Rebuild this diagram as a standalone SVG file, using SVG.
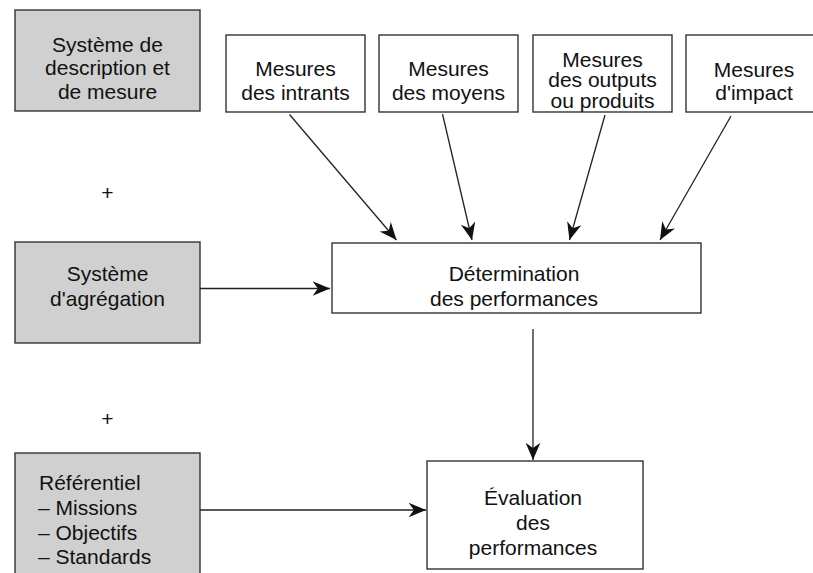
<svg xmlns="http://www.w3.org/2000/svg" width="813" height="573" viewBox="0 0 813 573">
<style>
.box{fill:#ffffff;stroke:#333333;stroke-width:1.4}
.gray{fill:#d0d0d0;stroke:#333333;stroke-width:1.4}
text{font-family:"Liberation Sans",Arial,Helvetica,sans-serif;font-size:21px;fill:#111111}
.c{text-anchor:middle}
.edge{stroke:#222222;stroke-width:1.3;fill:none;marker-end:url(#arr)}
</style>
<defs>
<marker id="arr" markerUnits="userSpaceOnUse" markerWidth="20" markerHeight="20" viewBox="-17 -8.5 19 17" refX="0" refY="0" orient="auto">
<path d="M0,0 L-16.5,-7 L-11.5,0 L-16.5,7 Z" fill="#111111"/>
</marker>
</defs>
<rect width="813" height="573" fill="#ffffff"/>

<g id="n-systeme-description">
<rect class="gray" x="15" y="10" width="185" height="101"/>
<text class="c" x="107.5" y="51.5">Système de</text>
<text class="c" x="107.5" y="75">description et</text>
<text class="c" x="107.5" y="98.5">de mesure</text>
</g>

<g id="n-plus1"><text class="c" x="107.5" y="200">+</text></g>

<g id="n-systeme-agregation">
<rect class="gray" x="15" y="242" width="185" height="101"/>
<text class="c" x="107.5" y="281">Système</text>
<text class="c" x="107.5" y="305.5">d'agrégation</text>
</g>

<g id="n-plus2"><text class="c" x="107.5" y="425.5">+</text></g>

<g id="n-referentiel">
<rect class="gray" x="15" y="453" width="185" height="130"/>
<text x="39" y="490">Référentiel</text>
<text x="38" y="515">– Missions</text>
<text x="38" y="540">– Objectifs</text>
<text x="38" y="564">– Standards</text>
</g>

<g id="n-intrants">
<rect class="box" x="226" y="35" width="139" height="77"/>
<text class="c" x="295.5" y="76">Mesures</text>
<text class="c" x="295.5" y="100">des intrants</text>
</g>

<g id="n-moyens">
<rect class="box" x="379" y="35" width="139" height="77"/>
<text class="c" x="448.5" y="76">Mesures</text>
<text class="c" x="448.5" y="100">des moyens</text>
</g>

<g id="n-outputs">
<rect class="box" x="533" y="35" width="139" height="77"/>
<text class="c" x="602.5" y="66.5">Mesures</text>
<text class="c" x="602.5" y="87">des outputs</text>
<text class="c" x="602.5" y="107.5">ou produits</text>
</g>

<g id="n-impact">
<rect class="box" x="686" y="35" width="139" height="77"/>
<text class="c" x="754" y="76.5">Mesures</text>
<text class="c" x="754" y="100">d'impact</text>
</g>

<g id="n-determination">
<rect class="box" x="332" y="243" width="369" height="70"/>
<text class="c" x="514" y="281">Détermination</text>
<text class="c" x="514" y="305.5">des performances</text>
</g>

<g id="n-evaluation">
<rect class="box" x="427" y="461" width="216" height="108"/>
<text class="c" x="533" y="504.5">Évaluation</text>
<text class="c" x="533" y="529.5">des</text>
<text class="c" x="533" y="554.5">performances</text>
</g>

<g id="connectors">
<line class="edge" x1="289.5" y1="114.5" x2="396.5" y2="240"/>
<line class="edge" x1="442.5" y1="114" x2="472" y2="240"/>
<line class="edge" x1="605" y1="115" x2="569.5" y2="240"/>
<line class="edge" x1="731" y1="116" x2="660" y2="240"/>
<line class="edge" x1="200" y1="288.5" x2="330" y2="288.5"/>
<line class="edge" x1="533" y1="329" x2="533" y2="460"/>
<line class="edge" x1="200" y1="510" x2="426" y2="510"/>
</g>
</svg>
